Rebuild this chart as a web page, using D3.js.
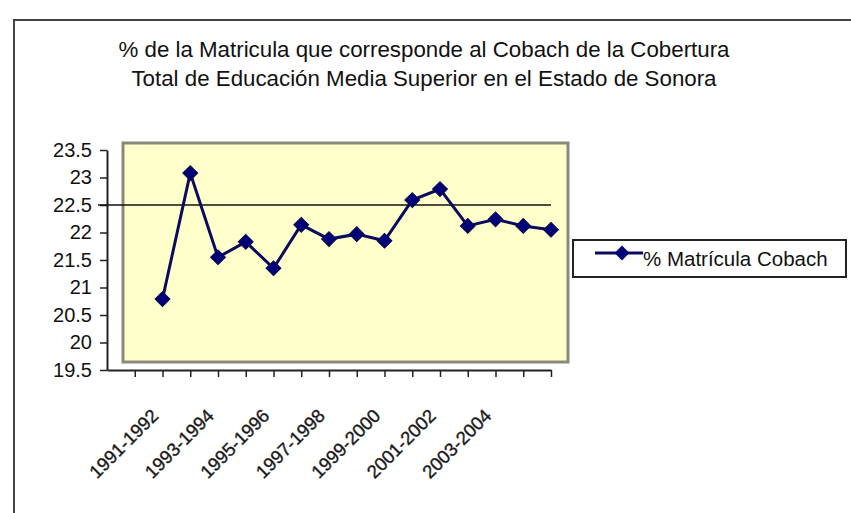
<!DOCTYPE html>
<html>
<head>
<meta charset="utf-8">
<script src="https://cdn.jsdelivr.net/npm/d3@7"></script>
<style>
  body { margin: 0; background: #fff; }
  text { font-family: "Liberation Sans", Arial, sans-serif; }
</style>
</head>
<body>
<script>

// data
const seasons = ['1991-1992', '1992-1993', '1993-1994', '1994-1995', '1995-1996',
    '1996-1997', '1997-1998', '1998-1999', '1999-2000', '2000-2001',
    '2001-2002', '2002-2003', '2003-2004', '2004-2005', '2005-2006']
const matricula = [20.79, 23.08, 21.55, 21.83, 21.35, 22.14, 21.88, 21.97,
    21.85, 22.59, 22.79, 22.12, 22.24, 22.12, 22.05]
const yTicks = [19.5, 20, 20.5, 21, 21.5, 22, 22.5, 23, 23.5]
const xLabels = ['1991-1992', '1993-1994', '1995-1996', '1997-1998',
    '1999-2000', '2001-2002', '2003-2004']
const referencia = 22.5
const titleLines = ['% de la Matricula que corresponde al Cobach de la Cobertura',
    'Total de Educación Media Superior en el Estado de Sonora']
const seriesName = '% Matrícula Cobach'

const width = 851, height = 513

const svg = d3.select('body')
    .append('svg')
    .attr('width', width)
    .attr('height', height)

// outer frame (cut off at right and bottom)
svg.append('rect')
    .attr('x', 14).attr('y', 20)
    .attr('width', 900).attr('height', 600)
    .attr('fill', 'none')
    .attr('stroke', '#444')
    .attr('stroke-width', 2)

svg.selectAll('.title')
    .data(titleLines)
    .join('text')
    .attr('class', 'title')
    .attr('x', 424)
    .attr('y', (d, i) => 57 + i * 29)
    .attr('text-anchor', 'middle')
    .attr('font-size', 22.3)
    .attr('fill', '#111')
    .text(d => d)

// plot area box
svg.append('rect')
    .attr('x', 123).attr('y', 143)
    .attr('width', 445).attr('height', 219)
    .attr('fill', '#ffffcc')
    .attr('stroke', '#8a8a7a')
    .attr('stroke-width', 3)

const x = d3.scaleLinear()
    .domain([-2, 14])
    .range([107, 551])

const y = d3.scaleLinear()
    .domain([19.5, 23.5])
    .range([370, 150])

// y axis
const yAxis = svg.append('g')
    .attr('transform', 'translate(107,0)')
    .call(d3.axisLeft(y)
        .tickValues(yTicks)
        .tickFormat(d3.format('~g'))
        .tickSize(7)
        .tickSizeOuter(0)
        .tickPadding(8))
yAxis.select('.domain').attr('stroke', '#222').attr('stroke-width', 2)
yAxis.selectAll('.tick line').attr('stroke', '#222').attr('stroke-width', 1.5)
yAxis.selectAll('.tick text')
    .attr('font-size', 20)
    .attr('fill', '#111')
    .attr('font-family', '"Liberation Sans", Arial, sans-serif')

// x axis
const xAxis = svg.append('g')
    .attr('transform', 'translate(0,370)')
    .call(d3.axisBottom(x)
        .tickValues(d3.range(-1, 15))
        .tickFormat('')
        .tickSize(7)
        .tickSizeOuter(0))
xAxis.select('.domain').attr('stroke', '#222').attr('stroke-width', 2)
xAxis.selectAll('.tick line').attr('stroke', '#222').attr('stroke-width', 1.5)

svg.selectAll('.xlabel')
    .data(xLabels)
    .join('text')
    .attr('class', 'xlabel')
    .attr('transform', d => `translate(${x(seasons.indexOf(d)) - 3},417) rotate(-45)`)
    .attr('text-anchor', 'end')
    .attr('font-size', 18.5)
    .attr('fill', '#111')
    .attr('stroke', '#333')
    .attr('stroke-width', 0.4)
    .text(d => d)

// reference line at 22.5
svg.append('line')
    .attr('x1', 98).attr('x2', x(14))
    .attr('y1', y(referencia)).attr('y2', y(referencia))
    .attr('stroke', '#111')
    .attr('stroke-width', 1.5)

// series
const line = d3.line()
    .x((d, i) => x(i))
    .y(d => y(d))

svg.append('path')
    .datum(matricula)
    .attr('d', line)
    .attr('fill', 'none')
    .attr('stroke', '#0b0b5e')
    .attr('stroke-width', 3)

const marker = d3.symbol().type(d3.symbolSquare).size(110)

svg.selectAll('.pt')
    .data(matricula)
    .join('path')
    .attr('class', 'pt')
    .attr('transform', (d, i) => `translate(${x(i)},${y(d)}) rotate(45)`)
    .attr('d', marker)
    .attr('fill', '#00007a')
    .attr('stroke', '#0a0a40')
    .attr('stroke-width', 1)

// legend
const legend = svg.append('g')
legend.append('rect')
    .attr('x', 573).attr('y', 240)
    .attr('width', 273).attr('height', 37)
    .attr('fill', '#fff')
    .attr('stroke', '#222')
    .attr('stroke-width', 2)
legend.append('line')
    .attr('x1', 595).attr('x2', 643)
    .attr('y1', 253).attr('y2', 253)
    .attr('stroke', '#0b0b5e')
    .attr('stroke-width', 3)
legend.append('path')
    .attr('transform', 'translate(622,253) rotate(45)')
    .attr('d', marker)
    .attr('fill', '#00007a')
legend.append('text')
    .attr('x', 643).attr('y', 266)
    .attr('font-size', 20.5)
    .attr('fill', '#111')
    .text(seriesName)

</script>
</body>
</html>
